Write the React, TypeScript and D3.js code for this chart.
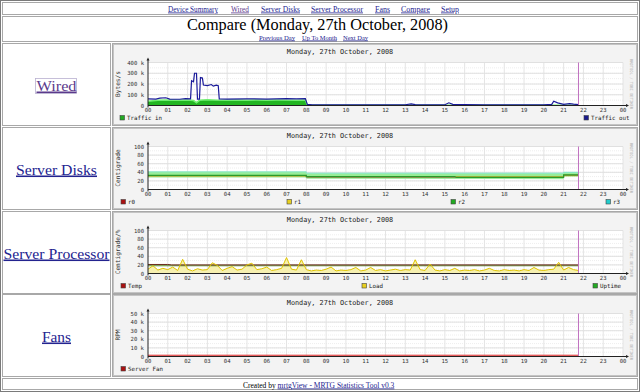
import React from 'react'
import * as d3 from 'd3'

// page text
const navLinks = ['Device Summary', 'Wired', 'Server Disks', 'Server Processor', 'Fans', 'Compare', 'Setup']
const pageTitle = 'Compare (Monday, 27th October, 2008)'
const dayLinks = ['Previous Day', 'Up To Month', 'Next Day']
const graphTitle = 'Monday, 27th October, 2008'
const rowNames = ['Wired', 'Server Disks', 'Server Processor', 'Fans']
const hourLabels = ['00', '01', '02', '03', '04', '05', '06', '07', '08', '09', '10', '11', '12',
  '13', '14', '15', '16', '17', '18', '19', '20', '21', '22', '23', '00']
const nowHour = 21.75

// Wired (k bytes/s), [hour, value]
const wiredTicks = [0, 100, 200, 300, 400]
const wiredTickLabels = ['0', '100 k', '200 k', '300 k', '400 k']
const trafficIn: [number, number][] = [
  [0, 40], [0.5, 48], [1, 50], [1.5, 49], [2, 52], [2.3, 46], [2.45, 26], [2.6, 48], [3, 54],
  [3.5, 50], [4, 49], [4.5, 52], [5, 48], [5.5, 51], [6, 50], [6.5, 52], [7, 50], [7.5, 49],
  [7.95, 52], [8.05, 3], [9, 2], [12, 2], [15, 2], [18, 2], [21.75, 2]
]
const trafficOut: [number, number][] = [
  [0, 62], [0.4, 60], [0.6, 68], [0.9, 72], [1.1, 60], [1.6, 58], [1.9, 64], [2.15, 62],
  [2.2, 230], [2.3, 220], [2.35, 300], [2.45, 300], [2.5, 60], [2.6, 60], [2.65, 260],
  [2.75, 255], [2.8, 190], [3.0, 185], [3.2, 195], [3.3, 180], [3.45, 190], [3.55, 185],
  [3.6, 62], [4, 60], [5, 62], [6, 60], [7, 64], [7.5, 62], [7.95, 64], [8.05, 10], [8.3, 6],
  [9, 5], [10, 6], [11, 5], [12, 6], [13, 7], [13.3, 15], [13.5, 8], [14, 6], [15, 7],
  [15.2, 25], [15.4, 10], [16, 8], [17, 5], [18, 5], [19, 6], [20, 6], [20.4, 10], [20.5, 40],
  [20.7, 25], [21, 10], [21.3, 18], [21.5, 12], [21.75, 8]
]

// Server Disks (°C)
const pctTicks = [0, 20, 40, 60, 80, 100]
const pctTickLabels = ['0', '20', '40', '60', '80', '100']
const diskR0: [number, number][] = [[0, 32], [8, 32], [8, 29], [21, 29], [21, 33], [21.75, 33]]
const diskR1: [number, number][] = [[0, 31], [8, 31], [8, 30], [21, 30], [21, 32], [21.75, 32]]
const diskR2: [number, number][] = [[0, 33], [8, 33], [8, 30], [15.5, 30], [15.6, 28], [21, 28], [21, 34], [21.75, 34]]
const diskR3: [number, number][] = [[0, 41], [8, 41], [8, 38], [21, 38], [21, 40], [21.75, 40]]
const diskLow: [number, number][] = [[0, 28], [8, 28], [8, 25], [21, 24], [21, 30], [21.75, 30]]

// Server Processor
const cpuTemp: [number, number][] = [[0, 21], [1, 21], [1.2, 20], [21.75, 20]]
const cpuUptime: [number, number][] = [[0, 18], [21.75, 18]]
const cpuLoad = [
  10, 18, 8, 12, 9, 15, 7, 33, 10, 6, 11, 8, 9, 25, 19, 7, 12, 16, 8, 10, 20, 24, 9, 11,
  15, 7, 9, 12, 37, 10, 8, 32, 9, 6, 8, 7, 10, 15, 6, 8, 7, 9, 14, 6, 8, 14, 7, 9,
  6, 8, 10, 7, 9, 8, 32, 9, 7, 22, 8, 6, 9, 7, 12, 6, 8, 7, 9, 6, 8, 12, 7, 6,
  9, 7, 8, 6, 9, 7, 14, 8, 7, 9, 10, 26, 8, 14, 9, 7
]

// Fans (k RPM)
const fanTicks = [0, 10, 20, 30, 40, 50]
const fanTickLabels = ['0', '10 k', '20 k', '30 k', '40 k', '50 k']
const serverFan: [number, number][] = [[0, 1.5], [21.75, 1.5]]

const mono = '"DejaVu Sans Mono", monospace'
const serif = '"Liberation Serif", "Times New Roman", serif'
const linkBlue = '#23238f'
const visited = '#5b3a8c'

const rowTops = [43, 127, 211, 294]

function Graph ({ top, yMax, ticks, tickLabels, yTitle, legend, draw }) {
  const x = d3.scaleLinear().domain([0, 24]).range([35, 510])
  const y = d3.scaleLinear().domain([0, yMax]).range([61.5, 18.5])
  const minor = d3.range(0, yMax, (ticks[1] - ticks[0]) / 2)
  return (
    <g transform={'translate(113,' + (top + 1) + ')'}>
      <rect x={0.5} y={0.5} width={523} height={80} fill='#f3f3f3' stroke='#c4c4c4' />
      <text x={227} y={9.5} fontFamily={mono} fontSize={6.8} textAnchor='middle' fill='#222'>{graphTitle}</text>
      <rect x={x(0)} y={y(yMax)} width={x(24) - x(0)} height={y(0) - y(yMax)} fill='#fff' />
      {minor.map((v, i) => (
        <line key={'m' + i} x1={x(0)} x2={x(24)} y1={y(v)} y2={y(v)} stroke='#eee' strokeDasharray='1,1' />
      ))}
      {d3.range(1, 25).map((h) => (
        <line key={'v' + h} x1={x(h)} x2={x(h)} y1={y(yMax)} y2={y(0)} stroke='#e4e4e4' />
      ))}
      {ticks.slice(1).map((v) => (
        <line key={'h' + v} x1={x(0)} x2={x(24)} y1={y(v)} y2={y(v)} stroke='#e0e0e0' />
      ))}
      {draw(x, y)}
      <line x1={x(nowHour)} x2={x(nowHour)} y1={y(yMax)} y2={y(0)} stroke='#c070c0' />
      <line x1={x(0)} x2={x(24) + 4} y1={y(0)} y2={y(0)} stroke='#222' />
      <path d={`M${x(24) + 6},${y(0)}l-3,-1.5v3z`} fill='#222' />
      <line x1={x(0)} x2={x(0)} y1={y(0) + 2} y2={y(yMax) - 3} stroke='#222' />
      <path d={`M${x(0)},${y(yMax) - 5}l-1.5,3h3z`} fill='#222' />
      {hourLabels.map((l, i) => (
        <text key={'x' + i} x={x(i)} y={68} fontFamily={mono} fontSize={5.6} textAnchor='middle' fill='#333'>{l}</text>
      ))}
      {ticks.map((v, i) => (
        <text key={'y' + i} x={31} y={y(v) + 2} fontFamily={mono} fontSize={5.6} textAnchor='end' fill='#333'>{tickLabels[i]}</text>
      ))}
      <text transform={`translate(7,${(y(0) + y(yMax)) / 2}) rotate(-90)`} fontFamily={mono} fontSize={6.2}
        textAnchor='middle' fill='#333'>{yTitle}</text>
      <text transform={'translate(517,40) rotate(90)'} fontFamily={mono} fontSize={4} textAnchor='middle'
        fill='#b0b0b0' textLength={50} lengthAdjust='spacingAndGlyphs'>RRDTOOL / TOBI OETIKER</text>
      {legend.map((it) => (
        <g key={it.label}>
          <rect x={it.x} y={71.5} width={4.5} height={4.5} fill={it.color} stroke='#444' strokeWidth={0.6} />
          <text x={it.x + 7} y={76} fontFamily={mono} fontSize={5.8} fill='#222'>{it.label}</text>
        </g>
      ))}
    </g>
  )
}

export default function App () {
  const pair = (x, y, curve = d3.curveLinear) => d3.line<[number, number]>().x((d) => x(d[0])).y((d) => y(d[1])).curve(curve)
  const loadPts: [number, number][] = cpuLoad.map((v, i) => [i / 4, v])

  const graphs = [
    {
      yMax: 400, ticks: wiredTicks, tickLabels: wiredTickLabels, yTitle: 'Bytes/s',
      legend: [{ label: 'Traffic in', color: '#22aa22', x: 7 }, { label: 'Traffic out', color: '#1a1a8c', x: 471 }],
      draw: (x, y) => {
        const area = d3.area<[number, number]>().x((d) => x(d[0])).y0(y(0)).y1((d) => y(d[1]))
        return (
          <g>
            <path d={area(trafficIn)} fill='#22b522' />
            <path d={pair(x, y)(trafficIn)} fill='none' stroke='#70ee70' strokeWidth={1.5} />
            <path d={pair(x, y)(trafficOut)} fill='none' stroke='#1a1a9a' strokeWidth={1.2} />
          </g>
        )
      }
    },
    {
      yMax: 100, ticks: pctTicks, tickLabels: pctTickLabels, yTitle: 'Centigrade',
      legend: [{ label: 'r0', color: '#aa1111', x: 8 }, { label: 'r1', color: '#e8d020', x: 174 },
        { label: 'r2', color: '#22aa22', x: 338 }, { label: 'r3', color: '#22cccc', x: 493 }],
      draw: (x, y) => {
        const band = d3.area<[number, number]>().x((d) => x(d[0])).y0((d, i) => y(diskLow[i][1])).y1((d) => y(d[1]))
        return (
          <g>
            <path d={band(diskR3)} fill='#98ec98' />
            <path d={pair(x, y)(diskR3)} fill='none' stroke='#80e8c8' />
            <path d={pair(x, y)(diskR0)} fill='none' stroke='#aa1111' strokeWidth={0.8} />
            <path d={pair(x, y)(diskR1)} fill='none' stroke='#c8c030' strokeWidth={0.8} />
            <path d={pair(x, y)(diskR2)} fill='none' stroke='#2a9a2a' strokeWidth={1.2} />
          </g>
        )
      }
    },
    {
      yMax: 100, ticks: pctTicks, tickLabels: pctTickLabels, yTitle: 'Centigrade/%',
      legend: [{ label: 'Temp', color: '#aa1111', x: 8 }, { label: 'Load', color: '#e8d020', x: 249 },
        { label: 'Uptime', color: '#22aa22', x: 480 }],
      draw: (x, y) => {
        const area = d3.area<[number, number]>().x((d) => x(d[0])).y0(y(0)).y1((d) => y(d[1]))
        return (
          <g>
            <path d={area(loadPts)} fill='#f6f0b0' />
            <path d={pair(x, y)(cpuUptime)} fill='none' stroke='#5a8a2a' strokeWidth={1.2} />
            <path d={pair(x, y)(cpuTemp)} fill='none' stroke='#6a2a1a' strokeWidth={1} />
            <path d={pair(x, y)(loadPts)} fill='none' stroke='#e0c400' strokeWidth={1} />
          </g>
        )
      }
    },
    {
      yMax: 50, ticks: fanTicks, tickLabels: fanTickLabels, yTitle: 'RPM',
      legend: [{ label: 'Server Fan', color: '#aa1111', x: 8 }],
      draw: (x, y) => {
        const area = d3.area<[number, number]>().x((d) => x(d[0])).y0(y(0)).y1((d) => y(d[1]))
        return (
          <g>
            <path d={area(serverFan)} fill='#f2b8b8' />
            <path d={pair(x, y)(serverFan)} fill='none' stroke='#e03030' strokeWidth={1} />
          </g>
        )
      }
    }
  ]

  const navX = [193, 240, 280.5, 337, 382.5, 415.5, 450]
  const navW = [50, 18, 39, 52, 15, 29, 18]
  const dayX = [277, 319.5, 355.5]
  const dayW = [36, 35, 25]
  const rowLabelW = [40, 81, 106, 29]

  return (
    <svg width={640} height={392} style={{ position: 'absolute', left: 0, top: 0, background: '#fff' }}>
      <rect x={0.5} y={0.5} width={639} height={391} fill='#fff' stroke='#7a7a7a' />
      <rect x={2.5} y={2.5} width={635} height={12} fill='none' stroke='#a8a8a8' />
      <rect x={2.5} y={16.5} width={635} height={25} fill='none' stroke='#a8a8a8' />
      {navLinks.map((l, i) => (
        <text key={l} x={navX[i]} y={11.5} fontFamily={serif} fontSize={8} textAnchor='middle'
          fill={l === 'Wired' ? visited : linkBlue} textDecoration='underline'
          textLength={navW[i]} lengthAdjust='spacingAndGlyphs'>{l}</text>
      ))}
      <text x={317.5} y={30} fontFamily={serif} fontSize={17.5} textAnchor='middle' fill='#000'
        textLength={261} lengthAdjust='spacingAndGlyphs'>{pageTitle}</text>
      {dayLinks.map((l, i) => (
        <text key={l} x={dayX[i]} y={39.5} fontFamily={serif} fontSize={6.8} textAnchor='middle'
          fill={linkBlue} textDecoration='underline' textLength={dayW[i]} lengthAdjust='spacingAndGlyphs'>{l}</text>
      ))}
      {rowTops.map((t, i) => (
        <g key={'row' + i}>
          <rect x={2.5} y={t + 0.5} width={108} height={82} fill='none' stroke='#a8a8a8' />
          <rect x={112.5} y={t + 0.5} width={525} height={82} fill='none' stroke='#a8a8a8' />
          {i === 0 && <rect x={35.5} y={t + 35.5} width={41} height={15} fill='none' stroke='#b8b0d0' strokeWidth={0.8} />}
          <text x={56.5} y={t + 47.5} fontFamily={serif} fontSize={15.5} textAnchor='middle'
            fill={i === 0 ? visited : linkBlue} textDecoration='underline'
            textLength={rowLabelW[i]} lengthAdjust='spacingAndGlyphs'>{rowNames[i]}</text>
          <Graph top={t} {...graphs[i]} />
        </g>
      ))}
      <rect x={2.5} y={378.5} width={635} height={11} fill='none' stroke='#a8a8a8' />
      <text x={243} y={387.5} fontFamily={serif} fontSize={7.5} fill='#000'>
        Created by <tspan fill={linkBlue} textDecoration='underline'>mrtgView - MRTG Statistics Tool v0.3</tspan>
      </text>
    </svg>
  )
}
